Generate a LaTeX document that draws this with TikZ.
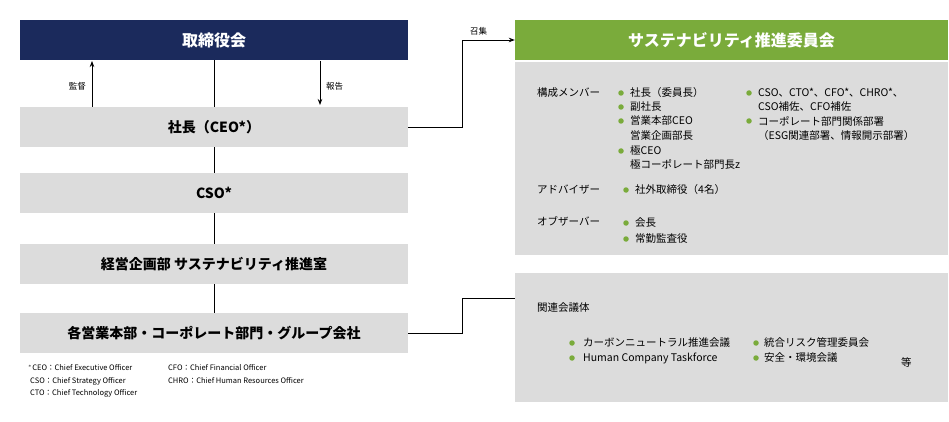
\documentclass[tikz,border=0pt]{standalone}
\usepackage{fontspec}
\setmainfont{Noto Sans CJK JP}
\usetikzlibrary{arrows.meta}
\definecolor{boardblue}{HTML}{1B2A5C}
\definecolor{panelgray}{HTML}{DCDCDC}
\definecolor{leafgreen}{HTML}{7AAB3B}
\tikzset{
  orgbox/.style={fill=panelgray, minimum width=388pt, minimum height=40pt, inner sep=0pt, font=\fontsize{14}{14}\selectfont\bfseries},
  headbox/.style={minimum width=388pt, minimum height=40pt, inner sep=0pt, text=white, font=\fontsize{16}{16}\selectfont\bfseries},
  paneltext/.style={anchor=west, inner sep=0pt, font=\fontsize{10.5}{11}\selectfont},
  note/.style={anchor=west, inner sep=0pt, font=\fontsize{7.5}{8}\selectfont},
  dot/.style={circle, fill=leafgreen, inner sep=0pt, minimum size=5.5pt},
  link/.style={draw, line width=0.8pt},
}
\begin{document}
\begin{tikzpicture}[x=1pt, y=-1pt]
  \useasboundingbox (0,0) rectangle (949,422);
  % left column
  \draw[line width=0.8pt] (214,60) -- (214,313);
  \node[headbox, fill=boardblue] (board) at (214,40) {取締役会};
  \node[orgbox] (ceo) at (214,127) {社長（CEO*）};
  \node[orgbox] (cso) at (214,193) {CSO*};
  \node[orgbox] (plan) at (214,264) {経営企画部 サステナビリティ推進室};
  \node[orgbox] (units) at (214,333) {各営業本部・コーポレート部門・グループ会社};
  \coordinate (supA) at (92,107);
  \coordinate (supB) at (92,61);
  \draw[-{Stealth[length=6pt]}, line width=0.8pt] (supA) -- (supB);
  \node[note, anchor=east, font=\fontsize{8.5}{8}\selectfont] (supL) at (86,86) {監督};
  \coordinate (repA) at (320,61);
  \coordinate (repB) at (320,105);
  \draw[-{Stealth[length=6pt]}, line width=0.8pt] (repA) -- (repB);
  \node[note, font=\fontsize{8.5}{8}\selectfont] (repL) at (326,86) {報告};
  % right column
  \node[headbox, fill=leafgreen, minimum width=433pt] (comm) at (731.5,40) {サステナビリティ推進委員会};
  \node[fill=panelgray, minimum width=433pt, minimum height=193pt, inner sep=0pt] (panel) at (731.5,158.5) {};
  \node[fill=panelgray, minimum width=433pt, minimum height=129pt, inner sep=0pt] (meet) at (731.5,337.5) {};
  \draw[link, -{Stealth[length=6pt]}] (ceo.east) -- (462,127) -- (462,40) -- (comm.west);
  \node[note, font=\fontsize{8.5}{8}\selectfont] (callL) at (470,31) {召集};
  \draw[link] (units.east) -- (462,333) -- (462,298) -- (515,298);
  % members
  \node[paneltext] at (537,93) {構成メンバー};
  \foreach \y/\t in {93/社長（委員長）,107/副社長,121/営業本部CEO,151/極CEO}
    \node[dot] at (621,\y) {};
  \foreach \y/\t in {93/社長（委員長）,107/副社長,121/営業本部CEO,136/営業企画部長,151/極CEO,164/極コーポレート部門長z}
    \node[paneltext] at (630,\y) {\t};
  \foreach \y in {93,121} \node[dot] at (749,\y) {};
  \foreach \y/\t in {93/{CSO、CTO*、CFO*、CHRO*、},107/CSO補佐、CFO補佐,121/コーポレート部門関係部署,136/（ESG関連部署、情報開示部署）}
    \node[paneltext] at (758,\y) {\t};
  \node[paneltext] at (537,190) {アドバイザー};
  \node[dot] at (626,190) {};
  \node[paneltext] at (635,190) {社外取締役（4名）};
  \node[paneltext] at (537,221) {オブザーバー};
  \foreach \y/\t in {223/会長,239/常勤監査役} {
    \node[dot] at (626,\y) {};
    \node[paneltext] at (635,\y) {\t};
  }
  % meetings
  \node[paneltext] at (537,308) {関連会議体};
  \foreach \y/\t in {343/カーボンニュートラル推進会議,358/Human Company Taskforce} {
    \node[dot] at (572,\y) {};
    \node[paneltext] at (583,\y) {\t};
  }
  \foreach \y/\t in {343/統合リスク管理委員会,358/安全・環境会議} {
    \node[dot] at (756,\y) {};
    \node[paneltext] at (764,\y) {\t};
  }
  \node[paneltext] at (901,362) {等};
  % footnote
  \node[note] at (28,368) {$^*$CEO：Chief Executive Officer};
  \node[note] at (30,381) {CSO：Chief Strategy Officer};
  \node[note] at (30,393) {CTO：Chief Technology Officer};
  \node[note] at (168,368) {CFO：Chief Financial Officer};
  \node[note] at (168,381) {CHRO：Chief Human Resources Officer};
\end{tikzpicture}
\end{document}
